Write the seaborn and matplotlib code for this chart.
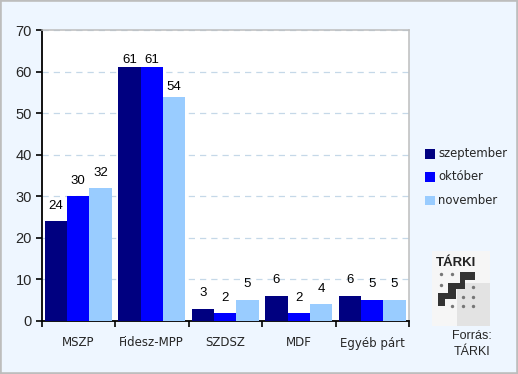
import pandas as pd
import seaborn as sns
import matplotlib.pyplot as plt
from matplotlib.patches import Rectangle, Polygon

# Values
parties = ['MSZP', 'Fidesz-MPP', 'SZDSZ', 'MDF', 'Egyéb párt']
months = ['szeptember', 'október', 'november']
szeptember = [24, 61, 3, 6, 6]
oktober = [30, 61, 2, 2, 5]
november = [32, 54, 5, 4, 5]
colors = ['#000080', '#0000FF', '#99CCFF']
y_ticks = [0, 10, 20, 30, 40, 50, 60, 70]

# gap in pixels between bar top and its label, per month
label_gaps = [[12, 4, 13, 13, 13], [12, 4, 12, 12, 13], [12, 7, 13, 12, 13]]

df = pd.DataFrame({
    'party': parties * 3,
    'month': [m for m in months for _ in parties],
    'value': szeptember + oktober + november,
})

W, H = 518, 374
sns.set_theme(style='white')
plt.rcParams['font.family'] = ['Liberation Sans', 'DejaVu Sans']

fig = plt.figure(figsize=(W / 100, H / 100), dpi=100, facecolor='#EEF6FF')
fig.add_artist(Rectangle((0, 0), 1, 1, transform=fig.transFigure, fill=False,
                         edgecolor='#BDBDBD', linewidth=2.6))

ax = fig.add_axes([41.5 / W, 1 - 321 / H, (409 - 41.5) / W, (321 - 30) / H])
ax.set_facecolor('white')

sns.barplot(data=df, x='party', y='value', hue='month', palette=colors,
            width=0.91, saturation=1, legend=False, linewidth=0, ax=ax, zorder=3)

ax.set_xlim(-0.5, 4.5)
ax.set_ylim(0, 70)
ax.set_xlabel('')
ax.set_ylabel('')
ax.set_yticks(y_ticks)
ax.set_xticks([i - 0.5 for i in range(6)])
ax.set_xticklabels([])
ax.tick_params(axis='both', length=4, width=1.2, color='black', direction='out',
               labelsize=10.5, pad=3, bottom=True, left=True)
ax.grid(axis='y', color='#C5D8E8', linestyle=(0, (5, 4)), linewidth=0.9, zorder=0)
ax.set_axisbelow(True)

for name in ['left', 'bottom']:
    ax.spines[name].set_color('black')
    ax.spines[name].set_linewidth(1.3)
for name in ['top', 'right']:
    ax.spines[name].set_color('#BDBDBD')
    ax.spines[name].set_linewidth(1.1)

# value labels, the gaps are not even in the original
for container, gaps in zip(ax.containers, label_gaps):
    for bar, gap in zip(container, gaps):
        ax.annotate(f'{bar.get_height():.0f}',
                    (bar.get_x() + bar.get_width() / 2, bar.get_height()),
                    xytext=(0, gap), textcoords='offset pixels',
                    ha='center', va='baseline', fontsize=9.5, color='black', zorder=5)

# category labels sit lower than usual
for i, party in enumerate(parties):
    ax.annotate(party, (i, 0), xytext=(0, -22), textcoords='offset pixels',
                ha='center', va='center', fontsize=8.5, family='DejaVu Sans',
                annotation_clip=False)

# legend drawn by hand so the swatches line up
for label, color, y in zip(months, colors, [154, 177, 200]):
    fig.add_artist(Rectangle((425 / W, 1 - (y + 5) / H), 9.5 / W, 9.5 / H,
                             transform=fig.transFigure, facecolor=color, edgecolor='none'))
    fig.text(438 / W, 1 - y / H, label, fontsize=8.4, family='DejaVu Sans',
             ha='left', va='center')

# TARKI logo
logo = fig.add_axes([432 / W, 1 - 326 / H, 58 / W, 75 / H])
logo.set_xlim(0, 58)
logo.set_ylim(75, 0)
logo.axis('off')
logo.add_patch(Rectangle((0, 0), 58, 75, facecolor='#F6F6F6', edgecolor='none'))
logo.add_patch(Rectangle((25, 32), 33, 43, facecolor='#E3E3E3', edgecolor='none'))
logo.text(24.5, 12, 'TÁRKI', fontsize=9.5, fontweight='bold', color='#222222',
          ha='center', va='center')
logo.add_patch(Polygon([(28, 21), (43, 21), (43, 29), (33, 29), (33, 38), (24, 38),
                        (24, 48), (13, 48), (13, 55), (6, 55), (6, 42), (16, 42),
                        (16, 32), (28, 32)],
                       facecolor='#333333', edgecolor='none'))
logo.scatter([9, 20, 9, 41, 41, 31, 20, 31, 41], [23, 23, 34, 36, 46, 46, 55, 55, 55],
             s=6, color='#777777', linewidths=0)

fig.text(472 / W, 1 - 336 / H, 'Forrás:', fontsize=9, ha='center', va='center')
fig.text(472 / W, 1 - 352 / H, 'TÁRKI', fontsize=9, ha='center', va='center')

fig.savefig('out.png', dpi=100, facecolor=fig.get_facecolor())
